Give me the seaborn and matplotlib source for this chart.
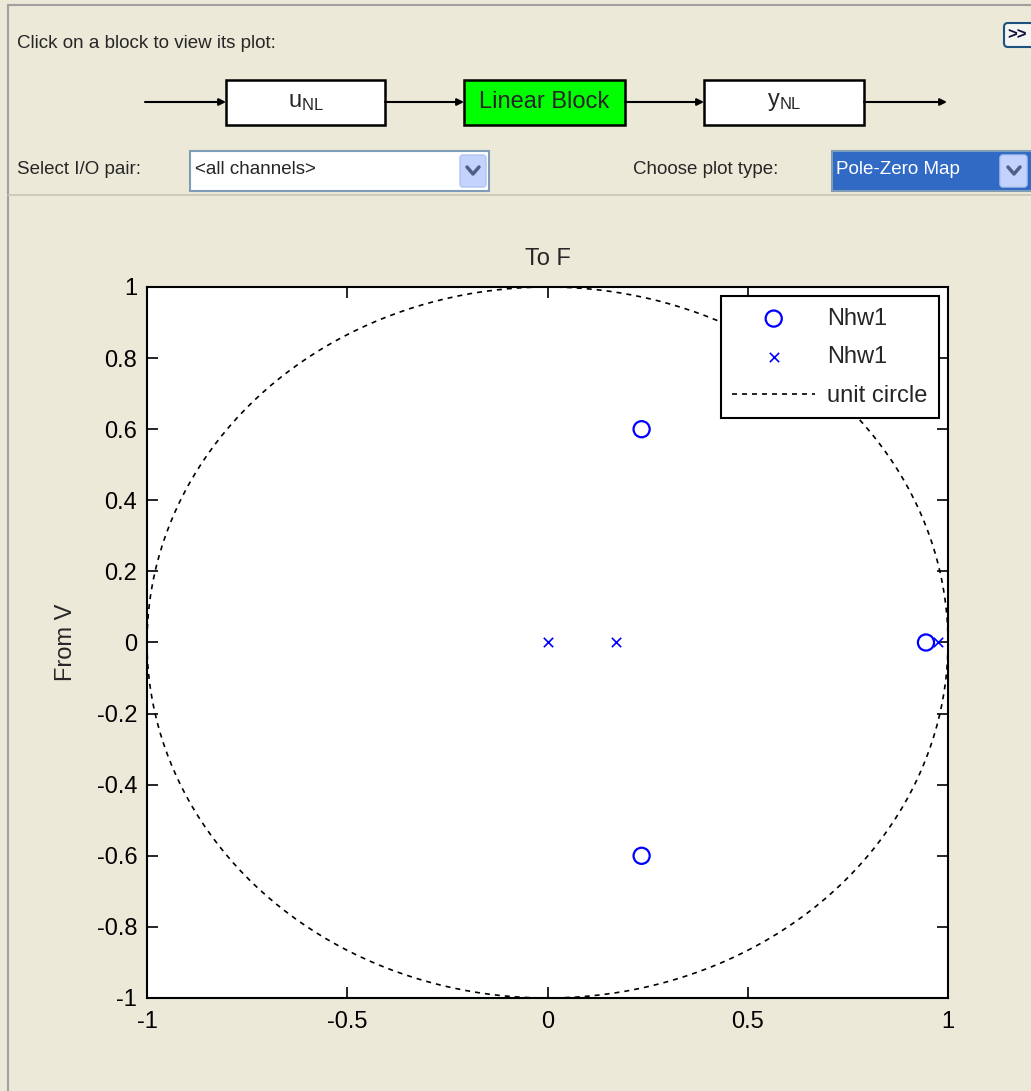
import numpy as np
import pandas as pd
import matplotlib
matplotlib.use('Agg')
import matplotlib.pyplot as plt
from matplotlib.patches import Rectangle, FancyBboxPatch
import seaborn as sns

# pole-zero data
zeros_re = [0.235, 0.235, 0.945]
zeros_im = [0.60, -0.60, 0.0]
poles_re = [0.0, 0.17, 0.975]
poles_im = [0.0, 0.0, 0.0]

xticks = [-1, -0.5, 0, 0.5, 1]
yticks = [-1, -0.8, -0.6, -0.4, -0.2, 0, 0.2, 0.4, 0.6, 0.8, 1]
series_label = 'Nhw1'

sns.set_style('white')
plt.rcParams['font.family'] = ['Liberation Sans', 'DejaVu Sans']
plt.rcParams['mathtext.fontset'] = 'custom'
plt.rcParams['mathtext.rm'] = 'Liberation Sans'

W, H = 1031, 1091
gui_bg = '#ECE9D8'
fig = plt.figure(figsize=(W / 100, H / 100), dpi=100, facecolor=gui_bg)

# ---- GUI panel drawn in pixel coordinates ----
bg = fig.add_axes([0, 0, 1, 1], zorder=0)
bg.set_xlim(0, W)
bg.set_ylim(H, 0)
bg.axis('off')
bg.set_facecolor(gui_bg)

bg.plot([8, W], [5, 5], color='#A0A0A0', lw=1.5)
bg.plot([8, 8], [5, H], color='#A0A0A0', lw=1.5)
bg.plot([8, W], [195, 195], color='#C9C5B4', lw=1.2)

bg.text(17, 43, 'Click on a block to view its plot:', fontsize=13.5, va='center', ha='left')

# ">>" button
bg.add_patch(FancyBboxPatch((1004, 23), 40, 24, boxstyle='round,pad=0,rounding_size=4',
                            fc='#F4F4F0', ec='#1C5180', lw=1.5))
bg.text(1007, 35, '>>', fontsize=12, va='center', ha='left', fontweight='bold', color='#101040')

# block diagram
yline = 102
blocks = [(226, 385, r'$\mathregular{u_{NL}}$', 'white'),
          (464, 625, 'Linear Block', '#00FF00'),
          (704, 864, r'$\mathregular{y_{NL}}$', 'white')]
for x0, x1, lab, fc in blocks:
    bg.add_patch(Rectangle((x0, 80), x1 - x0, 45, fc=fc, ec='black', lw=1.8))
    bg.text((x0 + x1) / 2, yline, lab, fontsize=17, ha='center', va='center')
segs = [(145, 226), (385, 464), (625, 704), (864, 947)]
for a, b in segs:
    bg.annotate('', xy=(b, yline), xytext=(a, yline),
                arrowprops=dict(arrowstyle='-|>', color='black', lw=1.5,
                                mutation_scale=10, shrinkA=0, shrinkB=0))

# selectors
bg.text(17, 170, 'Select I/O pair:', fontsize=13.5, va='center', ha='left')
bg.add_patch(Rectangle((190, 151), 299, 40, fc='white', ec='#7F9DB9', lw=1.5))
bg.add_patch(FancyBboxPatch((460, 155), 26, 32, boxstyle='round,pad=0,rounding_size=3',
                            fc='#C3D3FD', ec='#B0C4F0', lw=1))
bg.plot([467, 473, 479], [167, 174, 167], color='#4D6185', lw=2.5)
bg.text(195, 170, '<all channels>', fontsize=13.5, va='center', ha='left')

bg.text(633, 170, 'Choose plot type:', fontsize=13.5, va='center', ha='left')
bg.add_patch(Rectangle((832, 151), 210, 40, fc='#316AC5', ec='#7F9DB9', lw=1.5))
bg.add_patch(FancyBboxPatch((1000, 155), 27, 32, boxstyle='round,pad=0,rounding_size=3',
                            fc='#C3D3FD', ec='#B0C4F0', lw=1))
bg.plot([1008, 1014, 1020], [167, 174, 167], color='#4D6185', lw=2.5)
bg.text(836, 170, 'Pole-Zero Map', fontsize=13.5, va='center', ha='left', color='white')

# ---- pole-zero axes ----
ax = fig.add_axes([147 / W, 1 - 998 / H, 801 / W, 711 / H], zorder=2)
ax.set_facecolor('white')

theta = np.linspace(0, 2 * np.pi, 400)
circle = pd.DataFrame({'re': np.cos(theta), 'im': np.sin(theta)})

sns.scatterplot(x=zeros_re, y=zeros_im, ax=ax, marker='o', s=135, color='#0000FF',
                facecolor='none', edgecolor='#0000FF', linewidth=1.6, label=series_label, zorder=3)
sns.scatterplot(x=poles_re, y=poles_im, ax=ax, marker='x', s=45, color='#0000FF',
                linewidth=1.2, label=series_label, zorder=3)
sns.lineplot(data=circle, x='re', y='im', ax=ax, sort=False, estimator=None, color='black',
             linestyle=(0, (3, 3)), linewidth=1.2, label='unit circle', clip_on=False, zorder=2)

ax.set_xlim(-1, 1)
ax.set_ylim(-1, 1)
ax.set_xticks(xticks)
ax.set_xticklabels(['-1', '-0.5', '0', '0.5', '1'])
ax.set_yticks(yticks)
ax.set_yticklabels(['-1', '-0.8', '-0.6', '-0.4', '-0.2', '0', '0.2', '0.4', '0.6', '0.8', '1'])
ax.tick_params(direction='in', length=8, width=1.2, colors='black', labelsize=17,
               top=True, right=True, bottom=True, left=True)
ax.tick_params(axis='x', pad=9)
ax.tick_params(axis='y', pad=7)
for sp in ax.spines.values():
    sp.set_visible(True)
    sp.set_color('black')
    sp.set_linewidth(1.5)
ax.set_xlabel('')
ax.set_title('To F', fontsize=17, pad=16)
ax.set_ylabel('From V', fontsize=17, labelpad=14)

handles, labels = ax.get_legend_handles_labels()
leg = ax.legend(handles, labels, loc='upper right', fontsize=17, frameon=True, fancybox=False,
                edgecolor='black', framealpha=1, handlelength=3.5, borderaxespad=0.4,
                labelspacing=0.7, handletextpad=0.5, borderpad=0.48)
leg.get_frame().set_linewidth(1.5)

fig.savefig('out.png', dpi=100, facecolor=gui_bg)
